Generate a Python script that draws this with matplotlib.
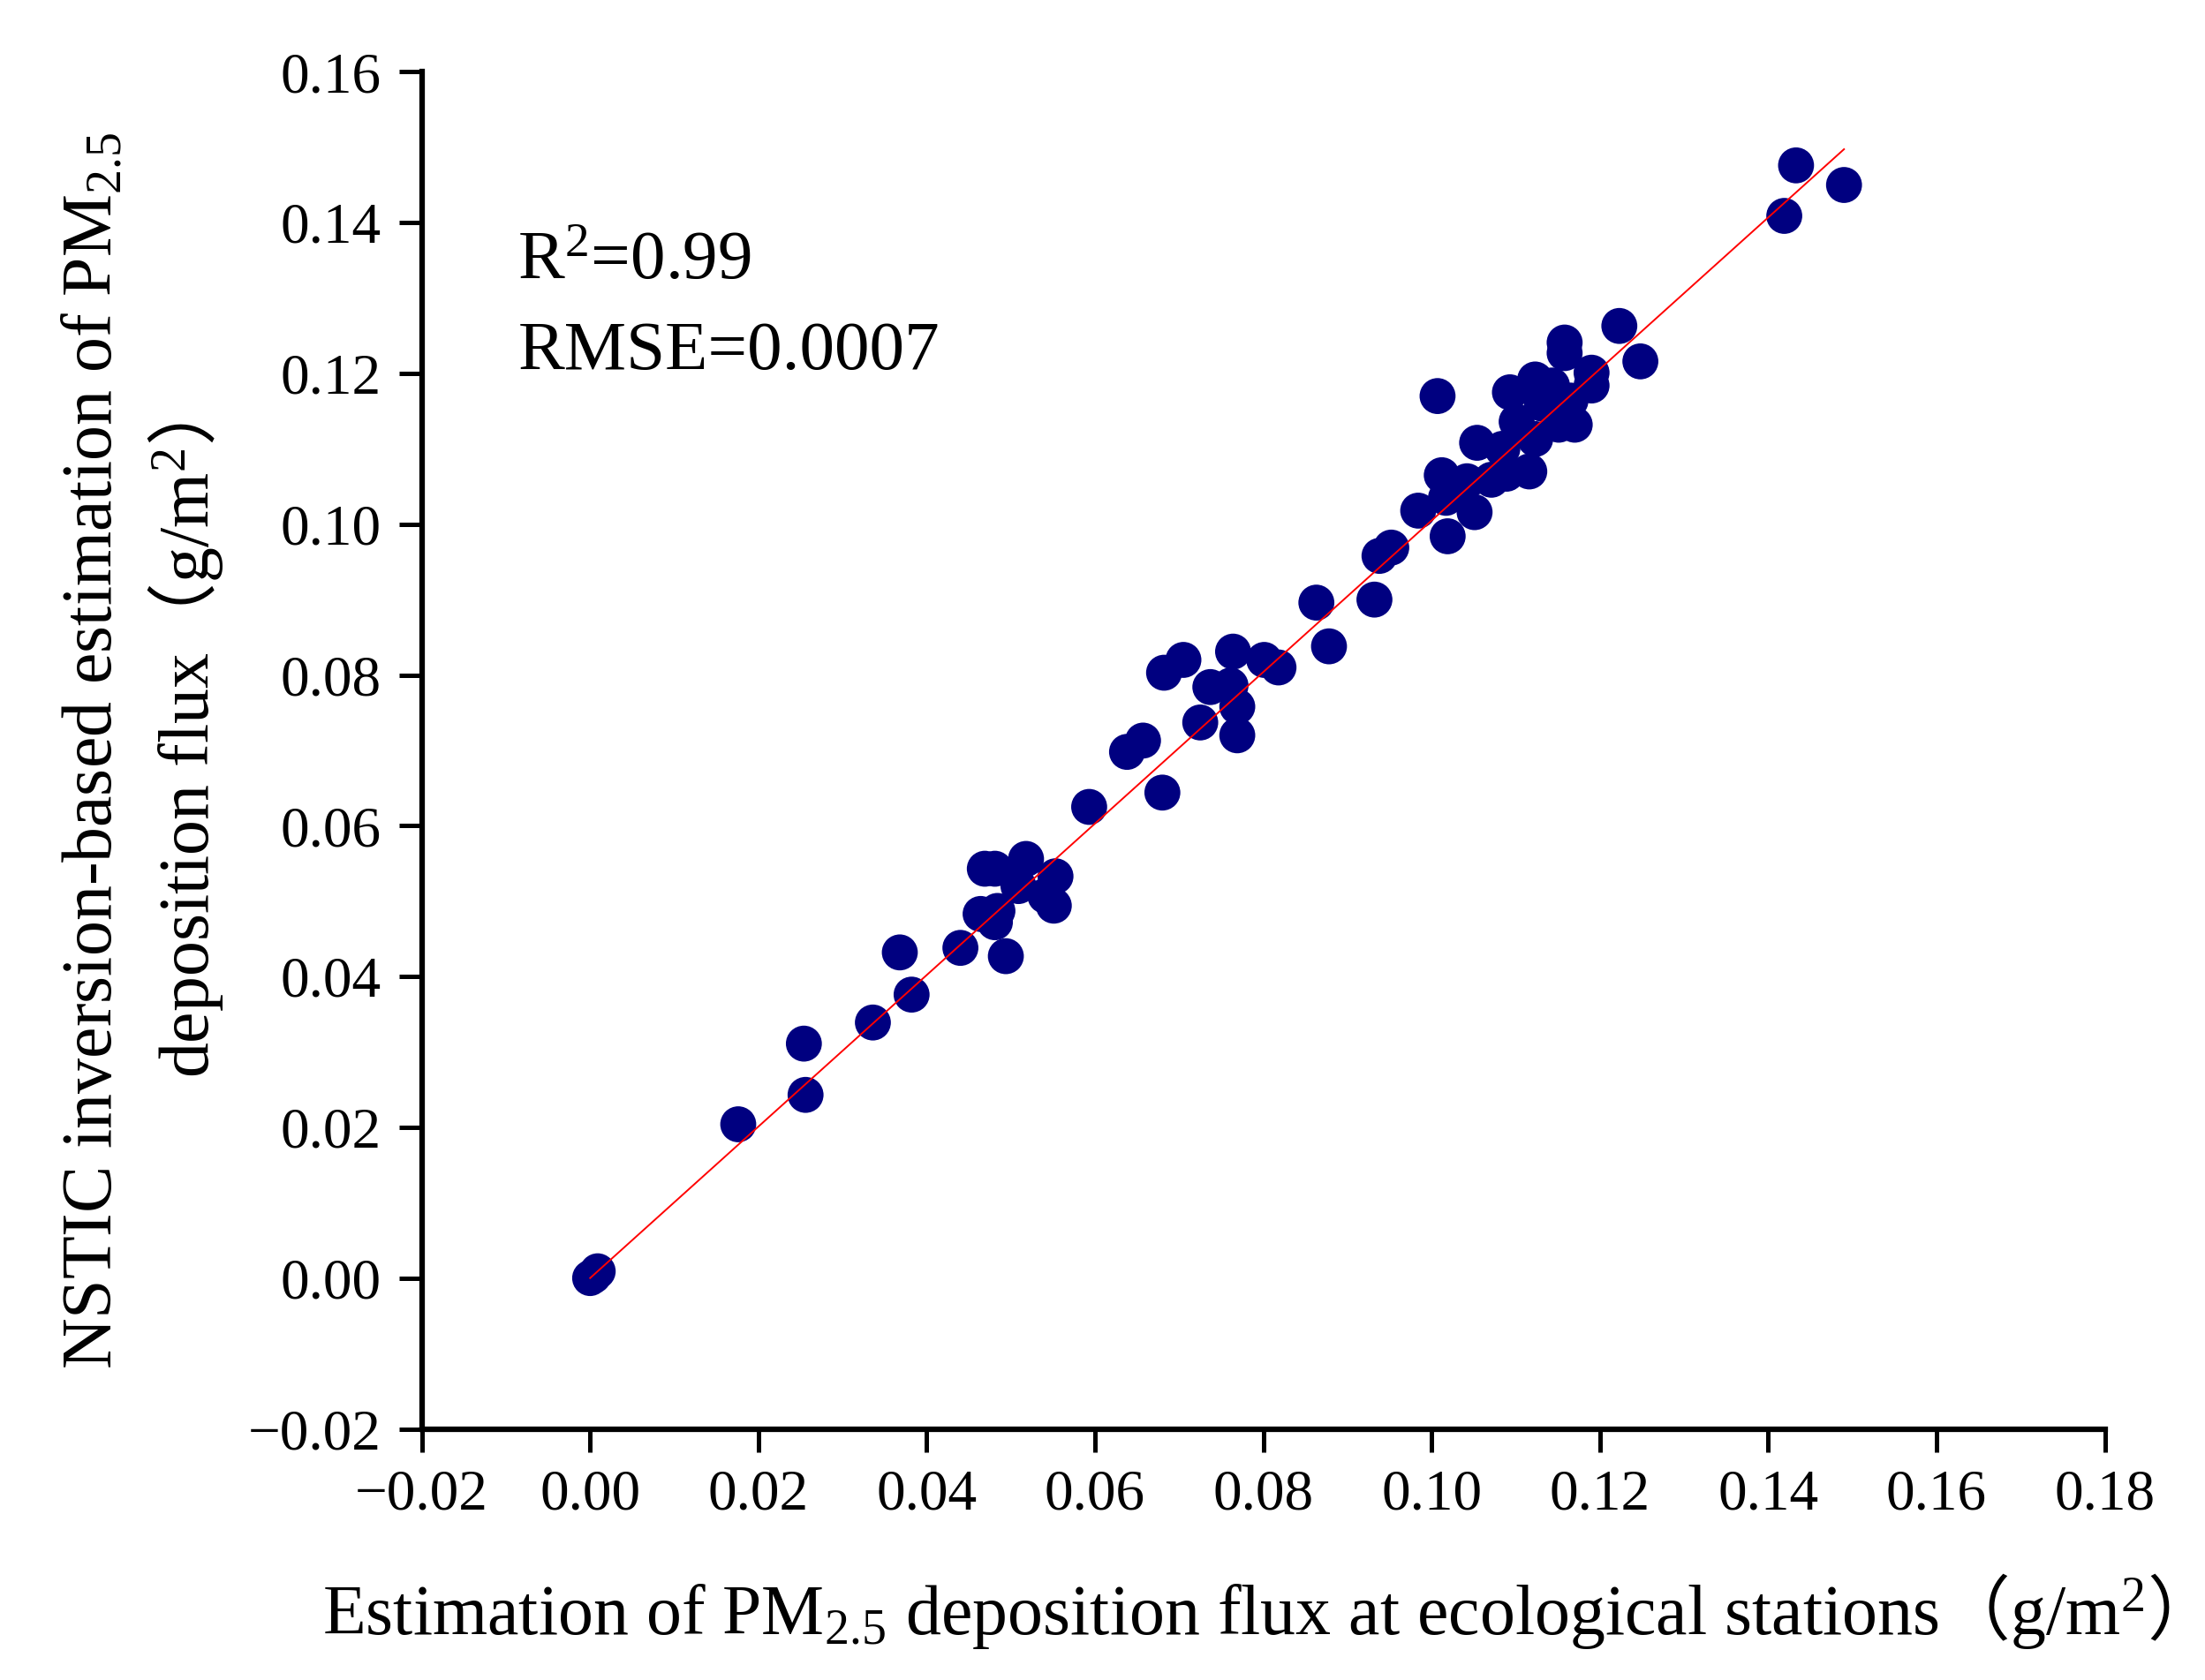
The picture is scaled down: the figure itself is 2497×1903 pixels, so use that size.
import numpy as np
import matplotlib
matplotlib.use('Agg')
import matplotlib.pyplot as plt

plt.rcParams['font.family'] = ['Liberation Serif', 'Noto Sans CJK SC']
plt.rcParams['mathtext.fontset'] = 'custom'
plt.rcParams['mathtext.rm'] = 'Liberation Serif'
plt.rcParams['mathtext.it'] = 'Liberation Serif:italic'
plt.rcParams['mathtext.bf'] = 'Liberation Serif:bold'
# full-width brackets come from the CJK font
plt.rcParams['mathtext.sf'] = 'Noto Sans CJK SC'

# station estimate (x) vs NSTIC inversion estimate (y), g/m2
station = [0.0000, 0.0004, 0.0009, 0.0176, 0.0254, 0.0256, 0.0336, 0.0368,
           0.0382, 0.0440, 0.0494, 0.0464, 0.0481, 0.0484, 0.0469, 0.0481,
           0.0509, 0.0518, 0.0553, 0.0541, 0.0551, 0.0593, 0.0638, 0.0657,
           0.0680, 0.0682, 0.0705, 0.0725, 0.0737, 0.0761, 0.0764, 0.0769,
           0.0769, 0.0801, 0.0818, 0.0863, 0.0878, 0.0932, 0.0938, 0.0952,
           0.0984, 0.1007, 0.1012, 0.1017, 0.1019, 0.1042, 0.1051, 0.1054,
           0.1071, 0.1084, 0.1089, 0.1093, 0.1101, 0.1116, 0.1123, 0.1123,
           0.1131, 0.1143, 0.1151, 0.1158, 0.1158, 0.1165, 0.1170, 0.1190,
           0.1190, 0.1223, 0.1248, 0.1433, 0.1419, 0.1490]
nstic = [0.0000, 0.0003, 0.0009, 0.0204, 0.0311, 0.0243, 0.0339, 0.0432,
         0.0376, 0.0438, 0.0427, 0.0483, 0.0472, 0.0487, 0.0543, 0.0543,
         0.0520, 0.0556, 0.0533, 0.0507, 0.0494, 0.0625, 0.0698, 0.0713,
         0.0644, 0.0803, 0.0820, 0.0737, 0.0784, 0.0786, 0.0831, 0.0758,
         0.0720, 0.0820, 0.0810, 0.0896, 0.0838, 0.0900, 0.0958, 0.0969,
         0.1018, 0.1170, 0.1065, 0.1035, 0.0984, 0.1057, 0.1016, 0.1108,
         0.1059, 0.1100, 0.1067, 0.1175, 0.1136, 0.1070, 0.1113, 0.1192,
         0.1160, 0.1184, 0.1132, 0.1241, 0.1227, 0.1164, 0.1132, 0.1201,
         0.1184, 0.1263, 0.1216, 0.1476, 0.1409, 0.1450]

fit_slope = 1.005
fit_intercept = 0.0
r2_text = 'R$^{\\mathrm{2}}$=0.99'
rmse_text = 'RMSE=0.0007'

x_ticks = np.arange(-0.02, 0.181, 0.02)
y_ticks = np.arange(-0.02, 0.161, 0.02)

fig = plt.figure(figsize=(24.97, 19.03), dpi=100)
ax = fig.add_axes([0.1913, 0.1495, 0.7633, 0.8077])

ax.scatter(station, nstic, s=860, color='#000080', edgecolors='none', zorder=3)

fx = np.array([0.0, max(station)])
ax.plot(fx, fit_slope * fx + fit_intercept, color='red', lw=1.4, zorder=4)

ax.set_xlim(-0.02, 0.18)
ax.set_ylim(-0.02, 0.16)
ax.set_xticks(x_ticks)
ax.set_yticks(y_ticks)


def fmt(v, pos):
    return ('%.2f' % v).replace('-', '\u2212')


ax.xaxis.set_major_formatter(plt.FuncFormatter(fmt))
ax.yaxis.set_major_formatter(plt.FuncFormatter(fmt))

for s in ['top', 'right']:
    ax.spines[s].set_visible(False)
for s in ['left', 'bottom']:
    ax.spines[s].set_linewidth(4.5)
ax.tick_params(axis='both', direction='out', length=19, width=3.6,
               labelsize=47)
ax.tick_params(axis='x', pad=14)
ax.tick_params(axis='y', pad=14)

ax.set_xlabel('Estimation of PM$_{\\mathrm{2.5}}$ deposition flux at ecological stations'
              '$\\mathsf{（}$g/m$^{\\mathrm{2}}$$\\mathsf{）}$', fontsize=57.5)
ax.set_ylabel('NSTIC inversion-based estimation of PM$_{\\mathit{2.5}}$\n'
              'deposition flux$\\mathsf{（}$g/m$^{\\mathrm{2}}$$\\mathsf{）}$',
              fontsize=57.5, linespacing=1.3)
ax.xaxis.set_label_coords(0.49, -0.105)
ax.yaxis.set_label_coords(-0.117, 0.5)

ax.text(0.057, 0.848, r2_text, transform=ax.transAxes, fontsize=57,
        va='baseline', ha='left')
ax.text(0.057, 0.781, rmse_text, transform=ax.transAxes, fontsize=57,
        va='baseline', ha='left')

plt.savefig('out.png', dpi=100)
